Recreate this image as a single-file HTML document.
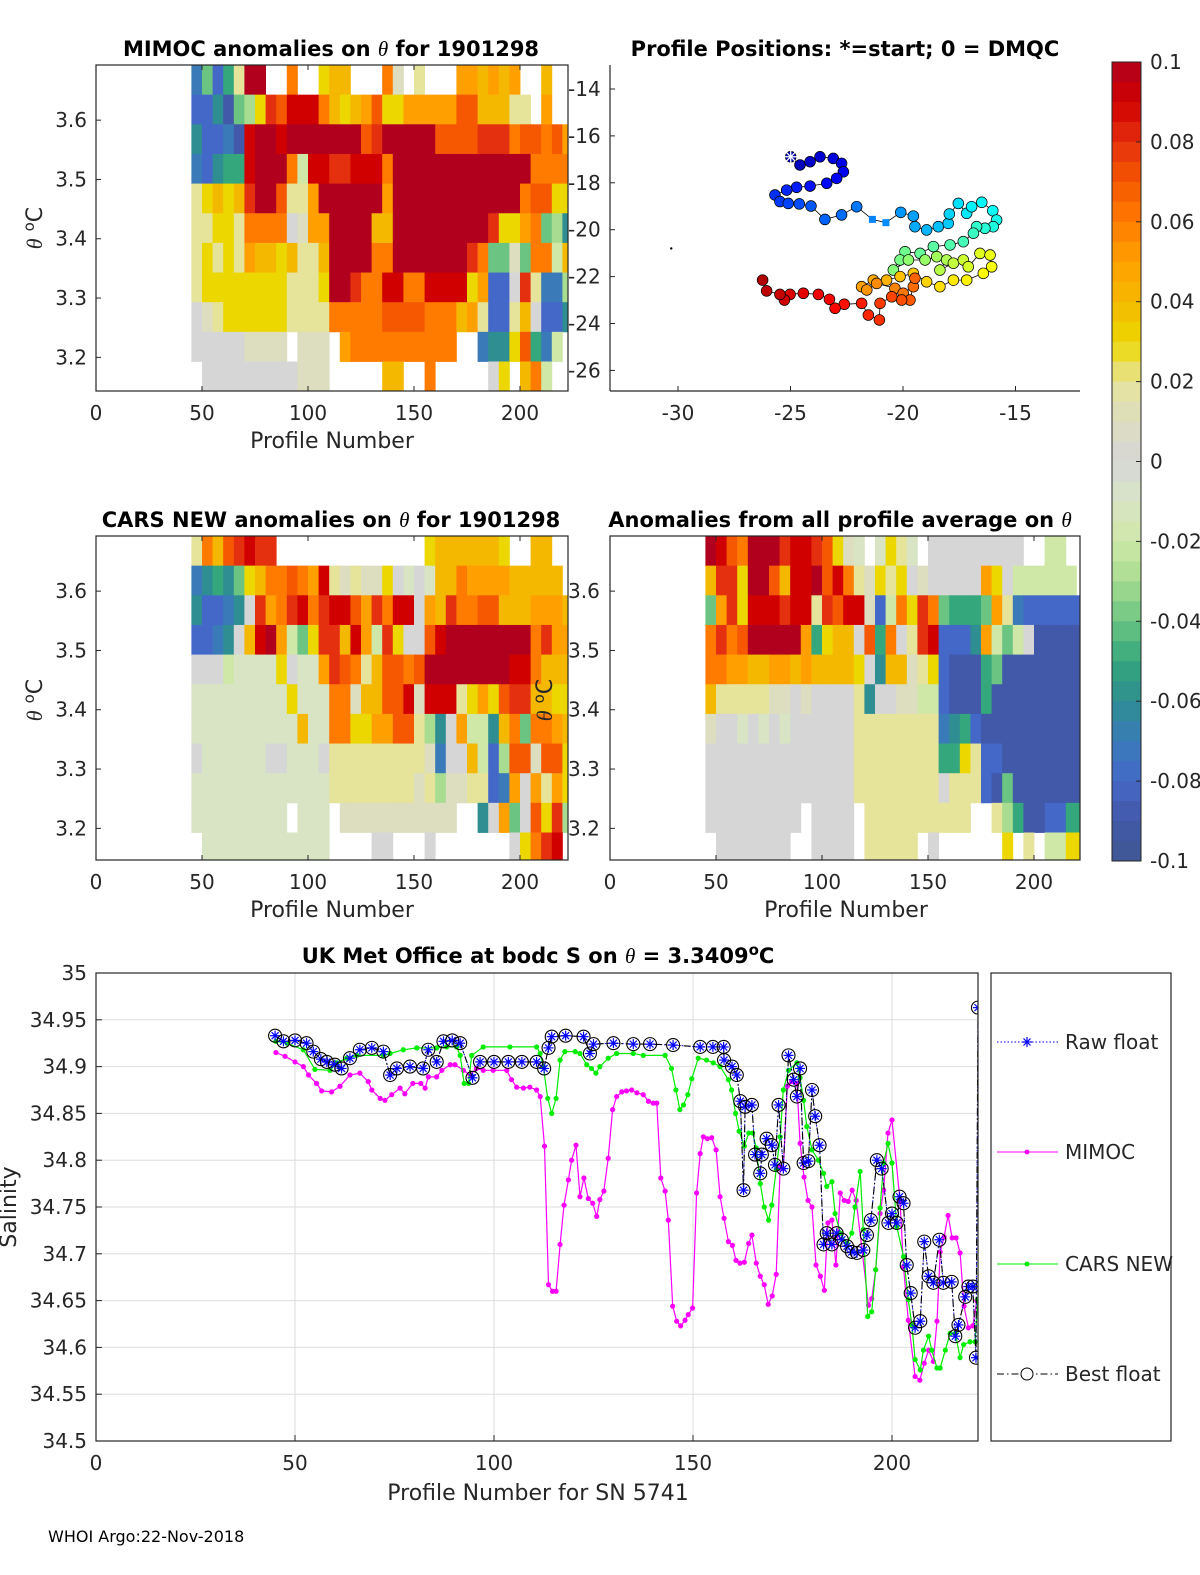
<!DOCTYPE html>
<html><head><meta charset="utf-8">
<style>
html,body{margin:0;padding:0;background:#fff;}
svg{display:block;font-family:"DejaVu Sans","Liberation Sans",sans-serif;}
.tk{font-size:20px;fill:#262626;}
.ttl{font-size:21px;font-weight:bold;fill:#000;}
.lab{font-size:22px;fill:#262626;}
</style></head>
<body>
<svg id="fig" width="1200" height="1575" viewBox="0 0 1200 1575" xmlns="http://www.w3.org/2000/svg">
<defs>
<clipPath id="c1"><rect x="96" y="65" width="472" height="326"/></clipPath>
<clipPath id="c2"><rect x="96" y="536" width="472" height="324"/></clipPath>
<clipPath id="c3"><rect x="610" y="536" width="470" height="324"/></clipPath>
<clipPath id="c4"><rect x="96" y="973" width="882" height="468"/></clipPath>
</defs>
<text class="ttl" x="331" y="56" text-anchor="middle">MIMOC anomalies on <tspan font-family="Liberation Serif" font-style="italic" font-weight="normal">θ</tspan>  for 1901298</text>
<text class="ttl" x="845" y="56" text-anchor="middle">Profile Positions: *=start; 0 = DMQC</text>
<text class="ttl" x="331" y="527" text-anchor="middle">CARS NEW anomalies on <tspan font-family="Liberation Serif" font-style="italic" font-weight="normal">θ</tspan> for 1901298</text>
<text class="ttl" x="840" y="527" text-anchor="middle">Anomalies from all profile average on <tspan font-family="Liberation Serif" font-style="italic" font-weight="normal">θ</tspan></text>
<text class="ttl" x="538" y="963" text-anchor="middle">UK Met Office at bodc S on <tspan font-family="Liberation Serif" font-style="italic" font-weight="normal">θ</tspan> = 3.3409<tspan dy="-8" font-size="15">o</tspan><tspan dy="8">C</tspan></text>
<text x="48" y="1542" font-size="16" fill="#000">WHOI Argo:22-Nov-2018</text>
</svg>
<script>
// ---------- heatmap data (anomaly in 0.01 units; null = missing) ----------
const profileStart = 45;
const profileStep = 5;
const thetaTop = 3.693;
const thetaStep = 0.05;
const mimocRows = [
[-7,-4,-8,-5,2,10,10,null,null,6,null,null,3,4,4,null,null,null,6,1,null,2,null,null,null,5,5,4,5,4,5,null,null,4,null,null],
[-8,-8,-6,-9,-4,-3,3,8,7,9,9,9,6,4,3,4,5,7,3,3,5,5,5,5,5,7,7,4,4,4,2,2,null,5,null,null],
[-6,-8,-8,-7,-9,9,10,10,9,10,10,10,10,10,10,10,7,8,10,10,10,10,10,7,7,7,7,8,8,8,6,7,7,6,7,5],
[-7,-8,-6,-5,-5,9,10,10,10,6,-2,9,9,8,8,9,9,9,6,10,10,10,10,10,10,10,10,10,10,10,10,10,6,6,6,6],
[2,3,4,3,4,8,10,10,7,2,2,5,10,10,10,10,10,10,5,10,10,10,10,10,10,10,10,10,10,10,10,6,7,7,3,3],
[2,2,3,3,2,6,6,6,6,0,1,5,5,10,10,10,10,4,4,10,10,10,10,10,10,10,10,10,8,3,3,5,6,-4,-3,-6],
[2,3,2,3,2,5,4,4,3,4,2,2,4,10,10,10,10,6,6,10,10,10,10,10,10,10,8,6,-4,-4,1,-4,6,6,-2,4],
[2,3,3,3,3,3,3,3,3,2,2,2,3,10,10,8,6,6,9,9,6,6,9,9,9,9,3,5,-8,-8,0,8,2,-7,-7,-3],
[0,1,2,3,3,3,3,3,3,2,2,2,2,6,6,6,6,6,7,7,7,7,6,6,6,4,5,2,-8,-8,2,4,0,-8,-8,-6],
[0,0,0,0,0,1,1,1,1,null,1,1,1,null,5,6,6,6,6,6,6,6,6,6,6,null,null,-7,-6,-6,3,7,-5,-7,-2,null],
[null,0,0,0,0,0,0,0,0,0,1,1,1,null,null,null,null,null,4,4,null,null,6,null,null,null,null,null,0,3,null,4,6,-2,null,null]
];
const carsRows = [
[2,6,4,7,8,9,8,8,null,null,null,null,null,null,null,null,null,null,null,null,null,null,3,4,4,4,4,4,4,3,null,null,4,4,null,null],
[-7,-6,-5,-6,-4,3,4,6,6,7,6,5,9,2,1,2,1,1,3,0,-1,0,-1,4,4,6,5,5,5,5,4,4,4,4,4,null],
[-6,-8,-8,-7,-6,0,8,5,6,8,9,6,8,9,9,7,5,8,6,9,9,0,5,4,8,6,6,7,7,4,4,4,5,5,5,4],
[-8,-8,-7,-6,0,4,9,10,5,-2,-4,3,8,8,4,9,5,-2,8,3,0,0,7,9,10,10,10,10,10,10,10,10,6,8,5,5],
[0,0,0,-2,-1,-1,-1,-1,3,0,-1,-1,5,8,7,6,2,4,7,7,6,7,10,10,10,10,10,10,10,10,9,9,6,4,4,4],
[-1,-1,-1,-1,-1,-1,-1,-1,-1,3,-1,-1,-1,6,6,1,4,4,7,7,9,1,9,9,9,2,3,5,3,7,8,8,4,4,3,3],
[-1,-1,-1,-1,-1,-1,-1,-1,-1,-1,4,-1,-1,6,6,3,3,5,5,7,7,2,-3,-6,0,5,-2,-2,-6,4,6,-4,6,6,5,4],
[0,-1,-1,-1,-1,-1,-1,0,0,-1,-1,-1,0,2,2,2,2,2,2,2,2,2,1,-7,0,0,4,-2,-8,-3,7,7,1,7,7,3],
[-1,-1,-1,-1,-1,-1,-1,-1,-1,-1,-1,-1,-1,2,2,2,2,2,2,2,2,1,2,-3,1,1,2,2,-8,-7,5,0,5,2,5,3],
[-1,-1,-1,-1,-1,-1,-1,-1,-1,null,-1,-1,-1,null,1,1,1,1,1,1,1,1,1,1,1,null,null,-6,0,5,-4,0,7,3,8,-3],
[null,-1,-1,-1,-1,-1,-1,-1,-1,-1,-1,-1,-1,null,null,null,null,0,0,null,null,null,0,null,null,null,null,null,null,null,0,3,6,8,9,null]
];
const avgRows = [
[10,9,7,6,10,10,10,8,9,9,8,7,3,1,-1,null,-1,3,2,-1,null,0,0,0,0,0,0,0,0,0,null,null,-2,-2,null,null],
[4,8,8,3,10,10,7,4,9,9,10,7,9,6,2,1,3,2,3,0,1,0,0,0,0,0,5,3,0,-2,-2,-2,-2,-2,-2,null],
[-4,5,8,3,9,9,9,8,9,9,2,8,7,9,9,1,-8,-2,6,3,8,6,-4,-5,-5,-5,-4,5,2,-7,-8,-8,-8,-8,-8,-8],
[6,8,6,7,10,10,10,10,10,5,-5,3,4,4,0,7,-5,6,0,2,8,9,-8,-8,-8,-6,5,-2,-4,-2,0,-9,-9,-9,-9,-9],
[6,6,5,5,4,4,5,5,4,5,4,4,4,4,3,0,-6,4,4,1,2,3,-8,-9,-9,-9,-5,-4,-9,-9,-9,-9,-9,-9,-9,-9],
[4,2,2,2,2,2,1,1,0,1,0,0,0,0,2,-6,0,0,1,1,-2,-2,-8,-9,-9,-9,-5,-9,-9,-9,-9,-9,-9,-9,-9,-9],
[1,0,0,-1,0,-1,0,-1,0,0,0,0,0,0,2,2,2,2,2,2,2,2,-7,-6,-5,-8,-9,-9,-9,-9,-9,-9,-9,-9,-9,-9],
[0,0,0,0,0,0,0,0,0,0,0,0,0,0,2,2,2,2,2,2,2,2,-5,-5,3,2,-8,-8,-9,-9,-9,-9,-9,-9,-9,-9],
[0,0,0,0,0,0,0,0,0,0,0,0,0,0,2,2,2,2,2,2,2,2,0,2,2,2,-8,-9,-4,-9,-9,-9,-9,-9,-9,-9],
[0,0,0,0,0,0,0,0,0,null,0,0,0,0,null,2,2,2,2,2,2,2,2,2,2,null,null,2,-3,-5,-9,-9,-8,-8,-5,-5],
[null,0,0,0,0,0,0,0,null,null,0,0,0,0,null,2,2,2,2,2,null,0,null,null,null,null,null,null,3,null,2,null,-2,-2,3,3]
];
const thetaTicks = [3.2,3.3,3.4,3.5,3.6];
const profileTicks = [0,50,100,150,200];
const latTicks = [-14,-16,-18,-20,-22,-24,-26];
const lonTicks = [-30,-25,-20,-15];
const cbTicks = [0.1,0.08,0.06,0.04,0.02,0,-0.02,-0.04,-0.06,-0.08,-0.1];
const cbLabels = ['0.1','0.08','0.06','0.04','0.02','0','-0.02','-0.04','-0.06','-0.08','-0.1'];
// ---------- float track (lon, lat) ----------
const trackLon = [-24.99,-24.58,-24.13,-23.69,-23.10,-22.73,-22.65,-22.95,-23.39,-24.13,-24.73,-25.17,-25.69,-25.47,-25.10,-24.61,-24.09,-23.47,-22.73,-22.06,-21.36,-20.76,-20.10,-19.54,-19.47,-18.95,-18.43,-17.99,-17.94,-17.54,-17.17,-16.95,-16.50,-16.01,-15.84,-15.99,-16.36,-16.73,-16.87,-17.32,-17.91,-18.65,-19.24,-19.91,-20.13,-20.43,-19.76,-19.02,-18.50,-18.06,-18.36,-17.76,-17.32,-17.10,-16.58,-16.13,-16.06,-16.43,-17.17,-17.76,-18.36,-18.95,-19.54,-20.13,-20.73,-21.32,-21.84,-21.61,-21.17,-20.36,-19.99,-19.54,-19.47,-19.69,-20.06,-20.50,-21.02,-21.05,-21.54,-21.84,-22.61,-23.02,-23.27,-23.76,-24.43,-25.02,-25.27,-25.47,-26.06,-26.24];
const trackLat = [-16.89,-17.24,-17.10,-16.89,-16.96,-17.17,-17.53,-17.81,-18.02,-18.14,-18.19,-18.31,-18.52,-18.80,-18.88,-18.90,-18.99,-19.56,-19.37,-19.02,-19.56,-19.70,-19.26,-19.42,-19.87,-20.01,-19.87,-19.73,-19.33,-18.88,-19.30,-19.02,-18.83,-19.19,-19.59,-19.87,-19.94,-19.87,-20.15,-20.51,-20.65,-20.72,-21.01,-20.94,-21.29,-21.72,-21.29,-21.29,-21.15,-21.29,-21.72,-21.43,-21.29,-21.58,-21.01,-21.08,-21.58,-21.86,-22.15,-22.15,-22.43,-22.22,-21.86,-22.00,-22.15,-22.15,-22.43,-22.57,-22.29,-22.50,-22.71,-22.43,-22.07,-23.00,-23.00,-22.86,-23.14,-23.85,-23.64,-23.14,-23.18,-23.35,-22.97,-22.76,-22.71,-22.76,-23.00,-22.76,-22.61,-22.15];
const squareIdx = [20,21];
// ---------- salinity series [profile, salinity] ----------
const mimocSeries = [[45.2,34.915],[47.5,34.911],[50,34.905],[52.1,34.900],[53.4,34.891],[55.4,34.882],[56.7,34.874],[59.2,34.873],[61.3,34.879],[63.8,34.891],[66.3,34.893],[68.4,34.884],[69.3,34.875],[71.4,34.866],[72.6,34.864],[74.3,34.870],[76.4,34.877],[77.6,34.871],[79.6,34.882],[81.6,34.882],[82.7,34.877],[83.5,34.889],[85.6,34.889],[86.9,34.896],[89,34.902],[90.2,34.902],[92.3,34.896],[94,34.891],[95.6,34.898],[97.3,34.896],[99.8,34.896],[103.2,34.896],[104.4,34.886],[105.7,34.878],[107.4,34.877],[109,34.878],[110.7,34.875],[111.6,34.868],[112.7,34.815],[113.7,34.667],[114.7,34.660],[115.6,34.660],[116.6,34.710],[117.6,34.752],[118.7,34.779],[119.5,34.800],[120.6,34.816],[121.6,34.761],[122.6,34.781],[123.7,34.759],[124.8,34.754],[125.8,34.740],[126.6,34.758],[127.6,34.767],[128.7,34.802],[129.8,34.854],[130.8,34.868],[132.1,34.873],[133.3,34.874],[134.6,34.875],[135.9,34.872],[137.5,34.870],[138.8,34.863],[140,34.861],[140.9,34.861],[141.9,34.781],[143,34.767],[143.8,34.736],[144.9,34.644],[145.9,34.628],[146.9,34.623],[148,34.629],[148.8,34.635],[149.9,34.642],[150.9,34.765],[151.8,34.807],[152.6,34.825],[153.6,34.823],[154.7,34.824],[155.8,34.811],[156.8,34.761],[157.8,34.738],[158.9,34.713],[159.9,34.709],[160.8,34.693],[161.8,34.690],[162.9,34.691],[164,34.711],[164.8,34.720],[165.9,34.690],[166.9,34.676],[167.9,34.667],[168.9,34.646],[169.9,34.655],[170.9,34.678],[171.9,34.793],[172.7,34.791],[173.7,34.879],[174.8,34.884],[176.1,34.882],[176.9,34.818],[177.9,34.782],[178.9,34.757],[179.9,34.750],[180.9,34.688],[182,34.676],[183,34.661],[183.9,34.733],[184.9,34.736],[185.9,34.688],[187,34.765],[188,34.757],[189,34.756],[190,34.768],[191,34.757],[194.1,34.645],[194.9,34.652],[195.9,34.683],[197,34.743],[197.9,34.768],[199,34.829],[200,34.843],[202,34.757],[202.9,34.686],[204.1,34.629],[205.8,34.569],[207,34.565],[208.1,34.583],[209.2,34.597],[210.4,34.585],[211.3,34.628],[212.1,34.702],[213.1,34.718],[214.1,34.741],[215.1,34.717],[216.1,34.717],[217.1,34.701],[218.1,34.644],[219.2,34.621],[220.3,34.623],[221.3,34.650]];
const carsSeries = [[45.2,34.927],[48,34.925],[52.1,34.918],[55,34.897],[58.8,34.896],[60.5,34.904],[63,34.909],[65.5,34.912],[72.2,34.912],[73.9,34.914],[77.2,34.918],[80.6,34.920],[85.6,34.920],[88.1,34.921],[90.6,34.921],[91.5,34.912],[92.5,34.882],[93.6,34.882],[94.4,34.912],[97.3,34.921],[104,34.921],[110.7,34.921],[111.6,34.914],[112.4,34.900],[113.5,34.866],[114.5,34.850],[115.6,34.866],[116.6,34.907],[117.8,34.916],[120.4,34.916],[121.6,34.914],[123.3,34.902],[124.5,34.898],[125.6,34.893],[126.6,34.900],[128.7,34.909],[130.8,34.914],[135,34.914],[137.5,34.912],[143,34.912],[144.6,34.898],[145.7,34.875],[146.7,34.854],[147.6,34.859],[148.7,34.870],[149.7,34.887],[151.3,34.909],[153.4,34.907],[155.1,34.904],[156.8,34.900],[158.9,34.886],[159.7,34.875],[160.7,34.850],[161.6,34.831],[162.9,34.815],[164,34.829],[165,34.829],[165.9,34.813],[166.9,34.775],[167.9,34.750],[169,34.736],[169.8,34.752],[170.9,34.790],[171.9,34.825],[172.7,34.875],[174,34.896],[176.1,34.904],[176.9,34.888],[177.8,34.864],[178.6,34.836],[179.9,34.811],[181.5,34.800],[182.8,34.786],[183.6,34.772],[184.9,34.777],[185.7,34.743],[187,34.722],[188.7,34.711],[189.9,34.722],[190.7,34.750],[192,34.788],[192.8,34.726],[193.9,34.633],[194.9,34.638],[195.9,34.683],[197,34.749],[197.9,34.797],[199,34.818],[200,34.797],[201.2,34.729],[202.9,34.697],[204.1,34.651],[205,34.624],[205.8,34.587],[207.1,34.576],[207.9,34.597],[209.2,34.612],[210,34.597],[211.3,34.578],[212.1,34.578],[213.4,34.597],[214.6,34.615],[215.9,34.615],[217.1,34.589],[218,34.603],[219.6,34.606],[220.9,34.606],[221.5,34.651]];
const bestSeries = [[45,34.933],[47.1,34.927],[50,34.928],[52.9,34.925],[54.6,34.916],[56.5,34.908],[58,34.905],[60,34.902],[61.7,34.898],[63.8,34.909],[66.3,34.918],[69.3,34.920],[72.2,34.916],[73.9,34.891],[75.6,34.898],[78.9,34.900],[82.2,34.898],[83.5,34.918],[85.6,34.905],[87.3,34.927],[89.5,34.928],[91.5,34.925],[94.6,34.888],[96.5,34.905],[100,34.905],[103.6,34.905],[107,34.905],[110.7,34.905],[112.6,34.898],[113.7,34.920],[114.5,34.932],[118,34.933],[122.5,34.932],[124.1,34.914],[125,34.924],[130,34.925],[135,34.924],[139.2,34.924],[145,34.923],[151.8,34.921],[155,34.921],[157.7,34.921],[157.8,34.907],[159.8,34.900],[161,34.891],[161.9,34.863],[162.7,34.768],[163.1,34.857],[164.8,34.859],[165.6,34.806],[166.9,34.786],[167.3,34.806],[168.5,34.823],[169.8,34.816],[170.6,34.795],[171.5,34.859],[172.7,34.791],[174,34.912],[175.3,34.886],[176.1,34.868],[176.9,34.898],[177.8,34.797],[179,34.799],[179.9,34.875],[180.7,34.847],[181.8,34.816],[182.8,34.710],[183.6,34.722],[184.9,34.710],[186.1,34.722],[187.4,34.715],[188.7,34.708],[189.9,34.702],[191.2,34.701],[192.8,34.704],[193.7,34.720],[194.7,34.736],[196.2,34.800],[197.4,34.791],[199.1,34.733],[200,34.743],[201.2,34.733],[201.9,34.761],[202.9,34.754],[203.7,34.688],[204.7,34.658],[205.8,34.621],[207.1,34.628],[208.1,34.713],[209.2,34.676],[210.4,34.669],[211.9,34.715],[212.9,34.669],[215,34.670],[215.9,34.612],[216.7,34.624],[218.4,34.654],[219.2,34.665],[220.3,34.665],[221.1,34.589],[221.6,34.963]];
const salTicks = [35,34.95,34.9,34.85,34.8,34.75,34.7,34.65,34.6,34.55,34.5];
const salLabels = ['35','34.95','34.9','34.85','34.8','34.75','34.7','34.65','34.6','34.55','34.5'];
const legendNames = ['Raw float','MIMOC','CARS NEW','Best float'];

const NS = 'http://www.w3.org/2000/svg';
const svg = document.getElementById('fig');
function mk(tag, attrs, parent){const e=document.createElementNS(NS,tag);for(const k in attrs)e.setAttribute(k,attrs[k]);(parent||svg).appendChild(e);return e;}
function txt(x,y,s,cls,anchor,parent){const t=mk('text',{x:x,y:y,'class':cls,'text-anchor':anchor||'middle'},parent);t.textContent=s;return t;}

// colormap
const cmStops=[[-0.1,[63,87,146]],[-0.09,[66,88,168]],[-0.08,[68,104,200]],[-0.07,[58,122,184]],[-0.06,[46,142,146]],[-0.05,[53,167,124]],[-0.04,[108,196,130]],[-0.03,[168,220,144]],[-0.02,[207,232,168]],[-0.01,[216,228,196]],[0,[214,214,214]],[0.01,[221,221,192]],[0.02,[230,227,154]],[0.03,[236,216,0]],[0.04,[245,184,0]],[0.05,[255,160,0]],[0.06,[255,123,0]],[0.07,[245,88,0]],[0.08,[229,48,16]],[0.09,[208,0,0]],[0.1,[176,0,30]]];
function cmap(v){v=Math.max(-0.1,Math.min(0.1,v));for(let i=1;i<cmStops.length;i++){if(v<=cmStops[i][0]+1e-9){const a=cmStops[i-1],b=cmStops[i];const t=(v-a[0])/(b[0]-a[0]);const c=a[1].map((x,j)=>Math.round(x+(b[1][j]-x)*t));return 'rgb('+c.join(',')+')';}}return 'rgb(176,0,30)';}
function jet(t){const f=x=>Math.round(255*Math.max(0,Math.min(1,x)));return 'rgb('+f(1.5-Math.abs(4*t-3))+','+f(1.5-Math.abs(4*t-2))+','+f(1.5-Math.abs(4*t-1))+')';}

function heatPanel(name, rows, x0, y0, w, h, clip, showXlabel){
  const px=p=>x0+2.12*p;
  const ty=t=>y0+(thetaTop-t)*593;
  const g=mk('g',{'clip-path':'url(#'+clip+')'});
  
  
  rows.forEach((row,r)=>{
    row.forEach((v,k)=>{
      if(v===null) return;
      const p=profileStart+profileStep*k;
      const t=thetaTop-thetaStep*r;
      const rc=mk('rect',{x:px(p),y:ty(t),width:px(p+profileStep)-px(p)+0.4,height:ty(t-thetaStep)-ty(t)+0.4,fill:cmap(v/100)},g);
      
      
    });
  });
  const fr=mk('rect',{x:x0,y:y0,width:w,height:h,fill:'none',stroke:'#262626','stroke-width':1.2});
  
  
  profileTicks.forEach(p=>{
    const x=px(p);
    mk('line',{x1:x,y1:y0+h,x2:x,y2:y0+h-5,stroke:'#262626'});
    mk('line',{x1:x,y1:y0,x2:x,y2:y0+5,stroke:'#262626'});
    const t=txt(x,y0+h+29,String(p),'tk');
    
    
  });
  if(showXlabel){
    const l=txt(x0+w/2-(name==='average'?-1:0),y0+h+57,'Profile Number','lab');
    
    
  }
  return {px:px,ty:ty};
}
function thetaAxis(name,x0,y0,labelX,anchor,titleX,titleY){
  const ty=t=>y0+(thetaTop-t)*593;
  thetaTicks.forEach(t=>{
    mk('line',{x1:x0,y1:ty(t),x2:x0+5,y2:ty(t),stroke:'#262626'});
    const l=txt(labelX,ty(t)+7,t.toFixed(1),'tk',anchor);
    
    
  });
  const yt=mk('text',{x:titleX,y:titleY,'class':'lab','text-anchor':'middle',transform:'rotate(-90 '+titleX+' '+titleY+')'});
  yt.innerHTML='<tspan font-family="Liberation Serif" font-style="italic">θ</tspan> <tspan dy="-8" font-size="15">o</tspan><tspan dy="8">C</tspan>';
  
  
}

heatPanel('mimoc', mimocRows, 96, 65, 472, 326, 'c1', true);
thetaAxis('mimoc',96,65,87,'end',42,228);
heatPanel('cars', carsRows, 96, 536, 472, 324, 'c2', true);
thetaAxis('cars',96,536,87,'end',42,700);
heatPanel('average', avgRows, 610, 536, 470, 324, 'c3', true);
thetaAxis('average',610,536,568,'start',552,700);
// right-hand theta axis labels for average panel sit left of frame; remove left labels duplicates not needed

// ---------- map panel ----------
(function(){
  const x0=610,y0=65,w=470,h=326;
  const lx=lon=>678+(lon+30)*22.5;
  const ly=lat=>89+(-14-lat)*23.45;
  const fr=mk('rect',{x:x0,y:y0,width:w,height:h,fill:'none',stroke:'none'});
  
  
  mk('line',{x1:x0,y1:y0,x2:x0,y2:y0+h,stroke:'#262626','stroke-width':1.2});
  mk('line',{x1:x0,y1:y0+h,x2:x0+w,y2:y0+h,stroke:'#262626','stroke-width':1.2});
  latTicks.forEach(v=>{
    mk('line',{x1:x0,y1:ly(v),x2:x0+5,y2:ly(v),stroke:'#262626'});
    const l=txt(568,ly(v)+7,String(v),'tk','start');
    
    
  });
  lonTicks.forEach(v=>{
    mk('line',{x1:lx(v),y1:y0+h,x2:lx(v),y2:y0+h-5,stroke:'#262626'});
    const l=txt(lx(v),y0+h+29,String(v),'tk');
    
    
  });
  let d='';
  trackLon.forEach((lo,i)=>{d+=(i?'L':'M')+lx(lo).toFixed(1)+' '+ly(trackLat[i]).toFixed(1);});
  const pl=mk('path',{d:d,fill:'none',stroke:'#000','stroke-width':0.8});
  
  
  const n=trackLon.length;
  trackLon.forEach((lo,i)=>{
    const c=jet(0.05+0.9*i/(n-1));
    let m;
    if(squareIdx.indexOf(i)>=0){
      m=mk('rect',{x:lx(lo)-3.5,y:ly(trackLat[i])-3.5,width:7,height:7,fill:c});
    } else {
      m=mk('circle',{cx:lx(lo),cy:ly(trackLat[i]),r:5.4,fill:c,stroke:'#000','stroke-width':0.7});
    }
    
    
  });
  const sx=lx(trackLon[0]),sy=ly(trackLat[0]);
  const st=mk('g',{stroke:'#fff','stroke-width':1.3});
  
  
  [[0,6],[6,0],[4.2,4.2],[4.2,-4.2]].forEach(a=>mk('line',{x1:sx-a[0],y1:sy-a[1],x2:sx+a[0],y2:sy+a[1]},st));
  const dm=mk('circle',{cx:lx(-30+(-0.3)),cy:ly(-20.8),r:1.2,fill:'#000'});
  
  
})();

// ---------- colorbar ----------
(function(){
  const x0=1112,w=29,yt=62,yb=861;
  const cy=v=>yt+(0.1-v)/0.2*(yb-yt);
  const nseg=40;
  for(let i=0;i<nseg;i++){
    const v1=0.1-0.2*i/nseg, v2=0.1-0.2*(i+1)/nseg;
    const r=mk('rect',{x:x0,y:cy(v1),width:w,height:cy(v2)-cy(v1)+0.5,fill:cmap((v1+v2)/2)});
    
    
  }
  const f=mk('rect',{x:x0,y:yt,width:w,height:yb-yt,fill:'none',stroke:'#262626','stroke-width':1});
  
  
  cbTicks.forEach((v,i)=>{
    mk('line',{x1:x0+w-5,y1:cy(v),x2:x0+w,y2:cy(v),stroke:'#262626'});
    const l=txt(1150,cy(v)+7,cbLabels[i],'tk','start');
    l.setAttribute('font-size','18');
    
    
  });
})();

// ---------- salinity plot ----------
(function(){
  const x0=96,y0=973,w=882,h=468;
  const sx=p=>x0+3.98*p;
  const sy=s=>y0+(35-s)*936;
  const bg=mk('rect',{x:x0,y:y0,width:w,height:h,fill:'#fff'});
  
  
  salTicks.forEach((s,i)=>{
    mk('line',{x1:x0,y1:sy(s),x2:x0+w,y2:sy(s),stroke:'#dedede'});
    mk('line',{x1:x0,y1:sy(s),x2:x0+6,y2:sy(s),stroke:'#262626'});
    const l=txt(87,sy(s)+7,salLabels[i],'tk','end');
    
    
  });
  profileTicks.forEach(p=>{
    if(p>0) mk('line',{x1:sx(p),y1:y0,x2:sx(p),y2:y0+h,stroke:'#dedede'});
    mk('line',{x1:sx(p),y1:y0+h,x2:sx(p),y2:y0+h-6,stroke:'#262626'});
    const l=txt(sx(p),y0+h+29,String(p),'tk');
    
    
  });
  const g=mk('g',{'clip-path':'url(#c4)'});
  
  
  const path=(arr)=>arr.map((pt,i)=>(i?'L':'M')+sx(pt[0]).toFixed(1)+' '+sy(pt[1]).toFixed(1)).join('');
  const mL=mk('path',{d:path(mimocSeries),fill:'none',stroke:'#ff00ff','stroke-width':1.2},g);
  
  
  mimocSeries.forEach(pt=>{const c=mk('circle',{cx:sx(pt[0]),cy:sy(pt[1]),r:2.6,fill:'#ff00ff'},g);
    
    });
  const cL=mk('path',{d:path(carsSeries),fill:'none',stroke:'#00ee00','stroke-width':1.2},g);
  
  
  carsSeries.forEach(pt=>{const c=mk('circle',{cx:sx(pt[0]),cy:sy(pt[1]),r:2.6,fill:'#00ee00'},g);
    
    });
  const rL=mk('path',{d:path(bestSeries),fill:'none',stroke:'#0000ff','stroke-width':1,'stroke-dasharray':'1.5 2'},g);
  
  
  const bL=mk('path',{d:path(bestSeries),fill:'none',stroke:'#000','stroke-width':1.1,'stroke-dasharray':'7 3 1.5 3'},g);
  
  
  bestSeries.forEach(pt=>{
    const x=sx(pt[0]),y=sy(pt[1]);
    const a=mk('g',{stroke:'#0000ff','stroke-width':1.2},g);
    
    
    [[0,5],[5,0],[3.5,3.5],[3.5,-3.5]].forEach(q=>mk('line',{x1:x-q[0],y1:y-q[1],x2:x+q[0],y2:y+q[1]},a));
    const c=mk('circle',{cx:x,cy:y,r:6.5,fill:'none',stroke:'#000','stroke-width':1.1},g);
    
    
  });
  const fr=mk('rect',{x:x0,y:y0,width:w,height:h,fill:'none',stroke:'#262626','stroke-width':1.2});
  
  
  const xl=txt(538,1500,'Profile Number for SN 5741','lab');
  
  
  const yl=mk('text',{x:16,y:1207,'class':'lab','text-anchor':'middle',transform:'rotate(-90 16 1207)'});
  yl.textContent='Salinity';
  
  
  // legend
  const lg=mk('g',{});
  
  
  mk('rect',{x:991,y:973,width:180,height:468,fill:'#fff',stroke:'#262626','stroke-width':1.2},lg);
  const ly=[1042,1152,1264,1374];
  legendNames.forEach((nm,i)=>{
    const e=mk('g',{},lg);
    
    
    const y=ly[i];
    if(i===0){
      mk('line',{x1:997,y1:y,x2:1058,y2:y,stroke:'#0000ff','stroke-dasharray':'1.5 2'},e);
      [[0,5],[5,0],[3.5,3.5],[3.5,-3.5]].forEach(q=>mk('line',{x1:1027-q[0],y1:y-q[1],x2:1027+q[0],y2:y+q[1],stroke:'#0000ff','stroke-width':1.2},e));
    } else if(i===1){
      mk('line',{x1:997,y1:y,x2:1058,y2:y,stroke:'#ff00ff'},e);
      mk('circle',{cx:1027,cy:y,r:2.4,fill:'#ff00ff'},e);
    } else if(i===2){
      mk('line',{x1:997,y1:y,x2:1058,y2:y,stroke:'#00ee00'},e);
      mk('circle',{cx:1027,cy:y,r:2.4,fill:'#00ee00'},e);
    } else {
      mk('line',{x1:997,y1:y,x2:1058,y2:y,stroke:'#000','stroke-dasharray':'7 3 1.5 3'},e);
      mk('circle',{cx:1027,cy:y,r:6,fill:'#fff',stroke:'#000'},e);
    }
    const t=txt(1065,y+7,nm,'tk','start',e);
    t.setAttribute('font-size','19');
  });
})();
</script>
</body></html>
